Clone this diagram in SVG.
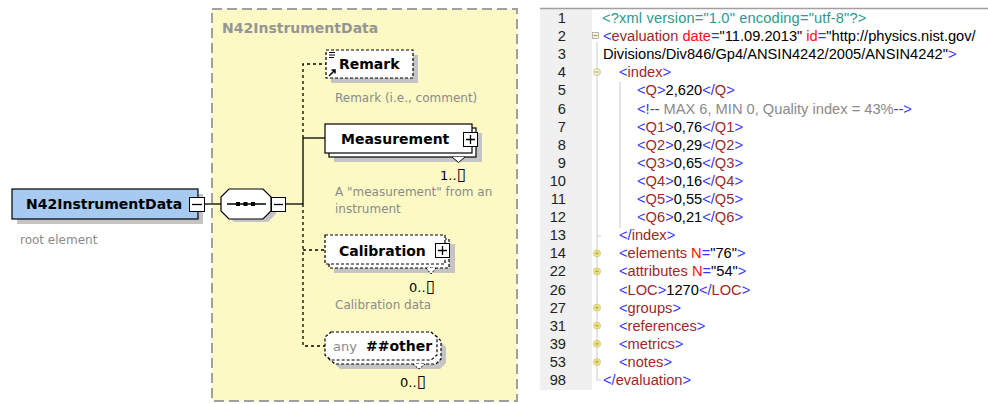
<svg xmlns="http://www.w3.org/2000/svg" width="988" height="404" viewBox="0 0 988 404">
<style>
.lbl{font-family:"DejaVu Sans",Verdana,sans-serif;font-weight:bold;font-size:14px;fill:#000}
.desc{font-family:"DejaVu Sans",Verdana,sans-serif;font-size:12px;fill:#8a8a8a}
.card{font-family:"DejaVu Sans",Verdana,sans-serif;font-size:13px;fill:#000}
.tofu{font-family:"DejaVu Sans",sans-serif;font-size:17px;fill:#000}
.shadow{fill:#c4c4c4;stroke:none}
.box{fill:#fff;stroke:#000;stroke-width:1.2}
.dbox{fill:#fff;stroke:#000;stroke-width:1.2;stroke-dasharray:3,2}
.btn{fill:#fff;stroke:#000;stroke-width:1}
.conn{fill:none;stroke:#000;stroke-width:1.3}
.dconn{fill:none;stroke:#000;stroke-width:1.3;stroke-dasharray:3,3}
.code{font-family:"Liberation Sans",Arial,sans-serif;font-size:14.67px;fill:#000}
.ln{font-family:"Liberation Sans",Arial,sans-serif;font-size:14.67px;fill:#222;text-anchor:end}
.b{fill:#3535ff}.t{fill:#a02828}.a{fill:#ff1010}.v{fill:#000}.c{fill:#8a8a8a}.d{fill:#2e9a8c}
.fold{fill:#f3ea8a;stroke:#c8c070;stroke-width:0.8}
</style>

<g id="panel">
<rect x="212" y="9" width="305" height="392" fill="#fdf9c4" stroke="#a0a0a0" stroke-width="2" stroke-dasharray="10,5"/>
<text x="222" y="33" class="lbl" style="fill:#959595">N42InstrumentData</text>
</g>

<g id="connectors">
<line x1="204" y1="204" x2="221" y2="204" class="conn"/>
<line x1="286" y1="204" x2="303" y2="204" class="conn"/>
<line x1="303" y1="138" x2="303" y2="204" class="conn"/>
<path d="M303,138 V64 H326" class="dconn"/>
<path d="M303,204 V346 H325" class="dconn"/>
<line x1="303" y1="138" x2="325" y2="138" class="conn"/>
<line x1="303" y1="250" x2="325" y2="250" class="dconn"/>
</g>

<g id="root">
<rect x="17" y="194" width="186" height="30" class="shadow"/>
<rect x="12" y="189" width="186" height="30" fill="#a6caf0" stroke="#000" stroke-width="1.2"/>
<text x="26" y="209" class="lbl">N42InstrumentData</text>
<rect x="189.5" y="197.5" width="15" height="14" class="btn"/>
<line x1="192" y1="204.5" x2="202" y2="204.5" stroke="#000" stroke-width="1.3"/>
<text x="20" y="244" class="desc">root element</text>
</g>

<g id="sequence">
<polygon points="234,194 268,194 276,202 276,214 268,222 234,222 226,214 226,202" class="shadow"/>
<polygon points="229,189 263,189 271,197 271,211 263,219 229,219 221,211 221,197" class="box"/>
<line x1="227" y1="204" x2="266" y2="204" stroke="#000" stroke-width="1.3"/>
<rect x="236" y="202" width="4" height="4" fill="#000"/>
<rect x="243.5" y="202" width="4" height="4" fill="#000"/>
<rect x="251" y="202" width="4" height="4" fill="#000"/>
<rect x="271.5" y="197.5" width="14" height="14" class="btn"/>
<line x1="274" y1="204.5" x2="283" y2="204.5" stroke="#000" stroke-width="1.3"/>
</g>

<g id="remark">
<rect x="331" y="55" width="87" height="28" class="shadow"/>
<rect x="326" y="50" width="87" height="28" class="dbox"/>
<path d="M329,52.5 h6 M329,55 h6 M329,57.5 h5" stroke="#000" stroke-width="1"/>
<path d="M329,76 L335,70 M331.5,70 H335 V73.5" stroke="#000" stroke-width="1.5" fill="none"/>
<text x="339" y="69" class="lbl">Remark</text>
<text x="335" y="102" class="desc">Remark (i.e., comment)</text>
</g>

<g id="measurement">
<rect x="334" y="133" width="148" height="29" class="shadow"/>
<rect x="329" y="128" width="147" height="29" class="box"/>
<rect x="325" y="124" width="147" height="29" class="box"/>
<path d="M452,157 L458.5,162.5 L465,157" fill="#fff" stroke="#000" stroke-width="1"/>
<text x="341" y="144" class="lbl">Measurement</text>
<rect x="463.5" y="132.5" width="14" height="14" class="btn"/>
<path d="M466,139.5 h9 M470.5,135 v9" stroke="#000" stroke-width="1.3"/>
<text x="440" y="180" class="card">1..<tspan class="tofu">▯</tspan></text>
<text x="335" y="196" class="desc">A "measurement" from an</text>
<text x="335" y="213" class="desc">instrument</text>
</g>

<g id="calibration">
<rect x="334" y="244" width="121" height="29" class="shadow"/>
<rect x="329" y="239" width="120" height="29" class="dbox"/>
<rect x="325" y="235" width="120" height="29" class="dbox"/>
<path d="M426,268 L431,274 L436,268" fill="#fff" stroke="#000" stroke-width="1" stroke-dasharray="2,1.5"/>
<text x="339" y="256" class="lbl">Calibration</text>
<rect x="435.5" y="243.5" width="14" height="14" class="btn"/>
<path d="M438,250.5 h9 M442.5,246 v9" stroke="#000" stroke-width="1.3"/>
<text x="409" y="292" class="card">0..<tspan class="tofu">▯</tspan></text>
<text x="335" y="309" class="desc">Calibration data</text>
</g>

<g id="any-other">
<polygon points="340,341 440,341 446,347 446,363 440,369 340,369 334,363 334,347" class="shadow"/>
<polygon points="335,336 436,336 441,341 441,359 436,364 335,364 329,359 329,341" fill="#fff" stroke="#000" stroke-width="1.2" stroke-dasharray="3,2"/>
<polygon points="331,332 431,332 437,337 437,355 431,360 331,360 325,355 325,337" fill="#fff" stroke="#000" stroke-width="1.2" stroke-dasharray="3,2"/>
<path d="M413,364 L419,369 L425,364" fill="#fff" stroke="#000" stroke-width="1" stroke-dasharray="2,1.5"/>
<text x="333" y="351" class="card" style="fill:#8a8a8a">any</text>
<text x="366" y="351" class="lbl">##other</text>
<text x="400" y="387" class="card">0..<tspan class="tofu">▯</tspan></text>
</g>

<g id="code-panel">
<rect x="540" y="9" width="52" height="381" fill="#f0f0f0"/>
<line x1="540" y1="8.5" x2="988" y2="8.5" stroke="#a0a0a0" stroke-width="1.5"/>
<path d="M597,42 V380 h4 M597,236 h4" stroke="#c8c8c8" stroke-width="1" fill="none"/>
<line x1="620" y1="82" x2="620" y2="228" stroke="#c8c8c8" stroke-width="1"/>
<rect x="592.5" y="32.5" width="6" height="6" fill="#f8f4d0" stroke="#a8a8a8" stroke-width="0.8"/>
<line x1="593.5" y1="35.5" x2="597.5" y2="35.5" stroke="#808080" stroke-width="0.8"/>
<circle cx="597" cy="72" r="3.5" fill="#f6f0c0" stroke="#c8c090" stroke-width="0.8"/>
<line x1="595" y1="72" x2="599" y2="72" stroke="#909090" stroke-width="0.8"/>
<g>
<circle cx="597" cy="253.3" r="3.5" class="fold"/><path d="M595,253.3 h4 M597,251.3 v4" stroke="#b0a040" stroke-width="0.8"/>
<circle cx="597" cy="271.4" r="3.5" class="fold"/><path d="M595,271.4 h4 M597,269.4 v4" stroke="#b0a040" stroke-width="0.8"/>
<circle cx="597" cy="307.6" r="3.5" class="fold"/><path d="M595,307.6 h4 M597,305.6 v4" stroke="#b0a040" stroke-width="0.8"/>
<circle cx="597" cy="325.7" r="3.5" class="fold"/><path d="M595,325.7 h4 M597,323.7 v4" stroke="#b0a040" stroke-width="0.8"/>
<circle cx="597" cy="343.8" r="3.5" class="fold"/><path d="M595,343.8 h4 M597,341.8 v4" stroke="#b0a040" stroke-width="0.8"/>
<circle cx="597" cy="361.9" r="3.5" class="fold"/><path d="M595,361.9 h4 M597,359.9 v4" stroke="#b0a040" stroke-width="0.8"/>
</g>
<g class="ln">
<text x="566" y="23">1</text>
<text x="566" y="41.1">2</text>
<text x="566" y="59.2">3</text>
<text x="566" y="77.3">4</text>
<text x="566" y="95.4">5</text>
<text x="566" y="113.5">6</text>
<text x="566" y="131.6">7</text>
<text x="566" y="149.7">8</text>
<text x="566" y="167.8">9</text>
<text x="566" y="185.9">10</text>
<text x="566" y="204">11</text>
<text x="566" y="222.1">12</text>
<text x="566" y="240.2">13</text>
<text x="566" y="258.3">14</text>
<text x="566" y="276.4">22</text>
<text x="566" y="294.5">26</text>
<text x="566" y="312.6">27</text>
<text x="566" y="330.7">31</text>
<text x="566" y="348.8">39</text>
<text x="566" y="366.9">53</text>
<text x="566" y="385">98</text>
</g>
<g class="code">
<text x="602" y="23" class="d" style="letter-spacing:0.15px">&lt;?xml version="1.0" encoding="utf-8"?&gt;</text>
<text x="603" y="41.1"><tspan class="b">&lt;</tspan><tspan class="t">evaluation</tspan><tspan class="a"> date</tspan><tspan class="b">=</tspan><tspan class="v">"11.09.2013"</tspan><tspan class="a"> id</tspan><tspan class="b">=</tspan><tspan class="v">"http://physics.nist.gov/</tspan></text>
<text x="603" y="59.2"><tspan class="v">Divisions/Div846/Gp4/ANSIN4242/2005/ANSIN4242"</tspan><tspan class="b">&gt;</tspan></text>
<text x="619" y="77.3"><tspan class="b">&lt;</tspan><tspan class="t">index</tspan><tspan class="b">&gt;</tspan></text>
<text x="637" y="95.4"><tspan class="b">&lt;</tspan><tspan class="t">Q</tspan><tspan class="b">&gt;</tspan>2,620<tspan class="b">&lt;/</tspan><tspan class="t">Q</tspan><tspan class="b">&gt;</tspan></text>
<text x="637" y="113.5"><tspan class="b">&lt;!--</tspan><tspan class="c"> MAX 6, MIN 0, Quality index = 43%</tspan><tspan class="b">--&gt;</tspan></text>
<text x="637" y="131.6"><tspan class="b">&lt;</tspan><tspan class="t">Q1</tspan><tspan class="b">&gt;</tspan>0,76<tspan class="b">&lt;/</tspan><tspan class="t">Q1</tspan><tspan class="b">&gt;</tspan></text>
<text x="637" y="149.7"><tspan class="b">&lt;</tspan><tspan class="t">Q2</tspan><tspan class="b">&gt;</tspan>0,29<tspan class="b">&lt;/</tspan><tspan class="t">Q2</tspan><tspan class="b">&gt;</tspan></text>
<text x="637" y="167.8"><tspan class="b">&lt;</tspan><tspan class="t">Q3</tspan><tspan class="b">&gt;</tspan>0,65<tspan class="b">&lt;/</tspan><tspan class="t">Q3</tspan><tspan class="b">&gt;</tspan></text>
<text x="637" y="185.9"><tspan class="b">&lt;</tspan><tspan class="t">Q4</tspan><tspan class="b">&gt;</tspan>0,16<tspan class="b">&lt;/</tspan><tspan class="t">Q4</tspan><tspan class="b">&gt;</tspan></text>
<text x="637" y="204"><tspan class="b">&lt;</tspan><tspan class="t">Q5</tspan><tspan class="b">&gt;</tspan>0,55<tspan class="b">&lt;/</tspan><tspan class="t">Q5</tspan><tspan class="b">&gt;</tspan></text>
<text x="637" y="222.1"><tspan class="b">&lt;</tspan><tspan class="t">Q6</tspan><tspan class="b">&gt;</tspan>0,21<tspan class="b">&lt;/</tspan><tspan class="t">Q6</tspan><tspan class="b">&gt;</tspan></text>
<text x="619" y="240.2"><tspan class="b">&lt;/</tspan><tspan class="t">index</tspan><tspan class="b">&gt;</tspan></text>
<text x="619" y="258.3"><tspan class="b">&lt;</tspan><tspan class="t">elements</tspan><tspan class="a"> N</tspan><tspan class="b">=</tspan>"76"<tspan class="b">&gt;</tspan></text>
<text x="619" y="276.4"><tspan class="b">&lt;</tspan><tspan class="t">attributes</tspan><tspan class="a"> N</tspan><tspan class="b">=</tspan>"54"<tspan class="b">&gt;</tspan></text>
<text x="619" y="294.5"><tspan class="b">&lt;</tspan><tspan class="t">LOC</tspan><tspan class="b">&gt;</tspan>1270<tspan class="b">&lt;/</tspan><tspan class="t">LOC</tspan><tspan class="b">&gt;</tspan></text>
<text x="619" y="312.6"><tspan class="b">&lt;</tspan><tspan class="t">groups</tspan><tspan class="b">&gt;</tspan></text>
<text x="619" y="330.7"><tspan class="b">&lt;</tspan><tspan class="t">references</tspan><tspan class="b">&gt;</tspan></text>
<text x="619" y="348.8"><tspan class="b">&lt;</tspan><tspan class="t">metrics</tspan><tspan class="b">&gt;</tspan></text>
<text x="619" y="366.9"><tspan class="b">&lt;</tspan><tspan class="t">notes</tspan><tspan class="b">&gt;</tspan></text>
<text x="603" y="385"><tspan class="b">&lt;/</tspan><tspan class="t">evaluation</tspan><tspan class="b">&gt;</tspan></text>
</g>
</g>
</svg>
